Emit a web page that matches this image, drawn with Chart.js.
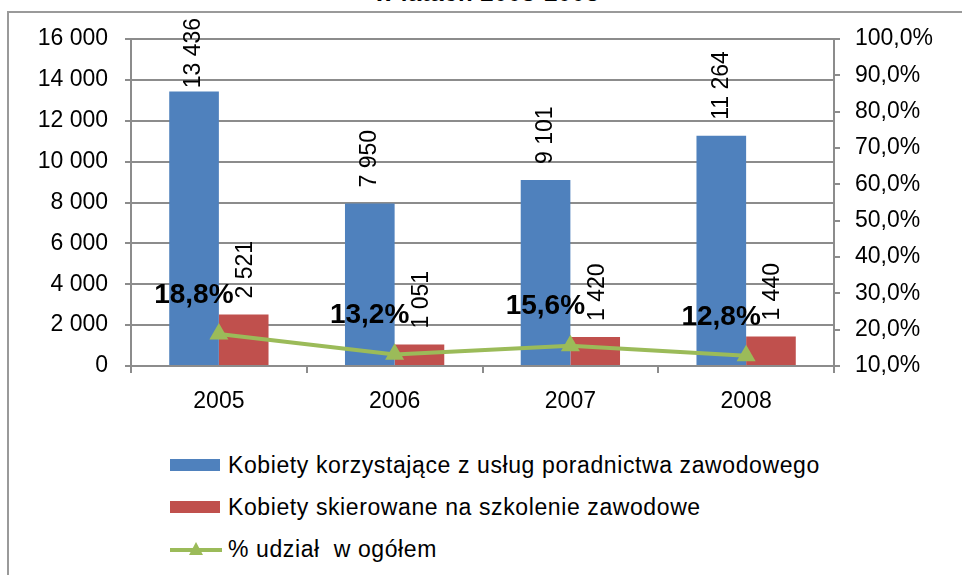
<!DOCTYPE html>
<html lang="pl">
<head>
<meta charset="utf-8">
<script src="https://cdn.jsdelivr.net/npm/chart.js@4/dist/chart.umd.min.js"></script>
<style>
  html, body { margin: 0; padding: 0; background: #fff; overflow: hidden; }
  body { width: 962px; height: 575px; position: relative; font-family: "Liberation Sans", Arial, sans-serif; color: #000; }
  #ramka { position: absolute; left: 7px; top: 11px; width: 1000px; height: 600px; border-left: 2px solid #9a9a9a; border-top: 2px solid #9a9a9a; }
  #tytul { position: absolute; left: 0; top: -19px; width: 974px; text-align: center; font-weight: bold; font-size: 24px; line-height: 24px; letter-spacing: 0.5px; }
  #wykres { position: absolute; left: 0; top: 0; }
  #legenda { position: absolute; left: 170px; top: 444px; margin: 0; padding: 0; list-style: none; }
  #legenda li { height: 42px; display: flex; align-items: center; font-size: 23px; letter-spacing: 0.6px; white-space: pre; }
  #legenda svg { margin-right: 6px; flex: none; }
</style>
</head>
<body>
<div id="ramka"></div>
<div id="tytul">w latach 2005-2008</div>
<canvas id="wykres" width="962" height="430"></canvas>
<ul id="legenda"></ul>
<script>
// dane
const lata = ["2005", "2006", "2007", "2008"];
const korzystajace = [13436, 7950, 9101, 11264];
const skierowane = [2521, 1051, 1420, 1440];
const udzial = [18.8, 13.2, 15.6, 12.8];

const nazwaKorzystajace = "Kobiety korzystające z usług poradnictwa zawodowego";
const nazwaSkierowane = "Kobiety skierowane na szkolenie zawodowe";
const nazwaUdzial = "% udział  w ogółem";

const czcionka = '"Liberation Sans", Arial, sans-serif';
const kolorSiatki = "#8c8c8c";

function formatujLiczbe(wartosc) {
  return String(Math.round(wartosc)).replace(/\B(?=(\d{3})+(?!\d))/g, " ");
}

function formatujProcent(wartosc) {
  return wartosc.toFixed(1).replace(".", ",") + "%";
}

// etykiety danych rysowane jak w Excelu
const pluginEtykiety = {
  id: "etykiety",
  afterDatasetsDraw: function (chart) {
    const ctx = chart.ctx;
    ctx.save();
    ctx.font = "23px " + czcionka;
    ctx.fillStyle = "#000";
    [0, 1].forEach(function (indeks) {
      const meta = chart.getDatasetMeta(indeks);
      meta.data.forEach(function (slupek, j) {
        const tekst = formatujLiczbe(chart.data.datasets[indeks].data[j]);
        const dlugosc = ctx.measureText(tekst).width;
        let dol = slupek.y - 16;
        if (dol - dlugosc < 18) dol = 18 + dlugosc;
        ctx.save();
        ctx.translate(slupek.x + (indeks === 1 ? 2 : 0), dol);
        ctx.rotate(-Math.PI / 2);
        ctx.textAlign = "left";
        ctx.textBaseline = "middle";
        ctx.fillText(tekst, 0, 0);
        ctx.restore();
      });
    });
    ctx.font = "bold 28px " + czcionka;
    ctx.textAlign = "center";
    ctx.textBaseline = "middle";
    const metaLinii = chart.getDatasetMeta(2);
    metaLinii.data.forEach(function (punkt, j) {
      ctx.fillText(formatujProcent(chart.data.datasets[2].data[j]), punkt.x - 25, punkt.y - 39);
    });
    ctx.restore();
  }
};

const wykres = new Chart(document.getElementById("wykres"), {
  type: "bar",
  data: {
    labels: lata,
    datasets: [
      {
        label: nazwaKorzystajace,
        data: korzystajace,
        backgroundColor: "#4F81BD",
        yAxisID: "y",
        order: 1
      },
      {
        label: nazwaSkierowane,
        data: skierowane,
        backgroundColor: "#C0504D",
        yAxisID: "y",
        order: 1
      },
      {
        type: "line",
        label: nazwaUdzial,
        data: udzial,
        borderColor: "#9BBB59",
        backgroundColor: "#9BBB59",
        borderWidth: 4,
        pointStyle: "triangle",
        pointRadius: 11,
        pointBorderWidth: 0,
        tension: 0,
        yAxisID: "y1",
        order: 0
      }
    ]
  },
  options: {
    responsive: false,
    animation: false,
    devicePixelRatio: 1,
    layout: { padding: { top: 39, left: 0, right: 0, bottom: 0 } },
    datasets: {
      bar: { categoryPercentage: 0.565, barPercentage: 1.0 }
    },
    plugins: {
      legend: { display: false },
      title: { display: false },
      tooltip: { enabled: false }
    },
    scales: {
      x: {
        grid: {
          display: true,
          drawOnChartArea: false,
          drawTicks: true,
          tickLength: 7,
          color: kolorSiatki,
          lineWidth: 2
        },
        border: { display: true, color: kolorSiatki, width: 2 },
        ticks: { color: "#000", font: { family: czcionka, size: 23 }, padding: 15 },
        afterFit: function (skala) { skala.height = 64; }
      },
      y: {
        position: "left",
        min: 0,
        max: 16000,
        grid: { color: kolorSiatki, lineWidth: 2, tickLength: 6 },
        border: { display: true, color: kolorSiatki, width: 2 },
        ticks: {
          stepSize: 2000,
          color: "#000",
          font: { family: czcionka, size: 23 },
          padding: 17,
          callback: function (wartosc) { return formatujLiczbe(wartosc); }
        },
        afterFit: function (skala) { skala.width = 131; }
      },
      y1: {
        position: "right",
        min: 10,
        max: 100,
        grid: { drawOnChartArea: false, color: kolorSiatki, lineWidth: 2, tickLength: 6 },
        border: { display: true, color: kolorSiatki, width: 2 },
        ticks: {
          stepSize: 10,
          color: "#000",
          font: { family: czcionka, size: 23 },
          padding: 15,
          callback: function (wartosc) { return formatujProcent(wartosc); }
        },
        afterFit: function (skala) { skala.width = 128; }
      }
    }
  },
  plugins: [pluginEtykiety]
});

// legenda w jednej kolumnie pod wykresem
const legenda = document.getElementById("legenda");
wykres.data.datasets.forEach(function (zbior) {
  const li = document.createElement("li");
  let znacznik;
  if (zbior.type === "line") {
    znacznik = '<svg width="52" height="16"><line x1="0" y1="9" x2="52" y2="9" stroke="' + zbior.borderColor +
      '" stroke-width="4"/><polygon points="26,1 33,14 19,14" fill="' + zbior.backgroundColor + '"/></svg>';
  } else {
    znacznik = '<svg width="52" height="12"><rect x="0" y="0" width="50" height="12" fill="' + zbior.backgroundColor + '"/></svg>';
  }
  li.innerHTML = znacznik + "<span></span>";
  li.querySelector("span").textContent = zbior.label;
  legenda.appendChild(li);
});
</script>
</body>
</html>
